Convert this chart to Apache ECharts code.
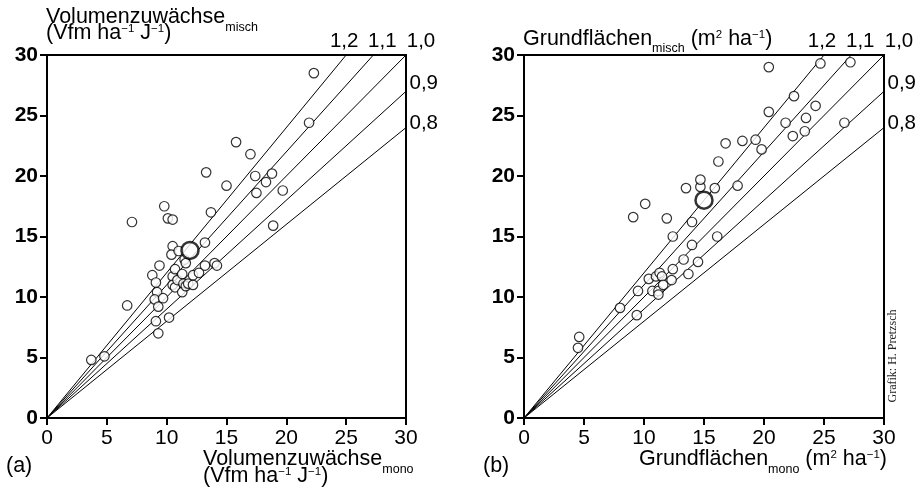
<!DOCTYPE html>
<html><head><meta charset="utf-8">
<script src="https://cdn.jsdelivr.net/npm/echarts@6/dist/echarts.min.js"></script>
<style>html,body{margin:0;padding:0;background:#fff}#c{width:916px;height:495px}</style>
</head><body><div id="c"></div>
<script>
// ---- data ----
const axisTicks = [0, 5, 10, 15, 20, 25, 30];
const ratios = [1.2, 1.1, 1.0, 0.9, 0.8];
const ratioLabels = ['1,2', '1,1', '1,0', '0,9', '0,8'];

// (a) Volumenzuwächse mono (x) vs misch (y)
const volPoints = [
  [3.7,4.8],[4.8,5.1],[6.7,9.3],[7.1,16.2],[8.8,11.8],[9.1,11.2],[9.2,10.4],[9.1,8.0],[9.3,7.0],
  [9.0,9.8],[9.7,9.9],[9.3,9.2],[9.4,12.6],[9.8,17.5],[10.1,16.5],[10.5,16.4],[10.2,8.3],
  [10.5,14.2],[10.4,13.5],[11.0,13.8],[10.5,11.7],[10.5,11.0],[10.7,10.8],[10.7,12.3],[10.9,11.4],
  [11.3,11.9],[11.4,11.1],[11.3,10.4],[11.5,13.1],[11.6,12.8],[11.6,10.9],[11.8,11.1],[12.2,11.0],
  [12.2,11.8],[12.7,12.0],[13.2,12.6],[13.2,14.5],[14.0,12.8],[14.2,12.6],[13.3,20.3],[13.7,17.0],
  [15.0,19.2],[15.8,22.8],[17.0,21.8],[17.4,20.0],[17.5,18.6],[18.3,19.5],[18.8,20.2],[18.9,15.9],
  [19.7,18.8],[21.9,24.4],[22.3,28.5]
];
const volMean = [[11.95, 13.85]];

// (b) Grundflächen mono (x) vs misch (y)
const baPoints = [
  [4.5,5.8],[4.6,6.7],[8.0,9.1],[9.4,8.5],[9.5,10.5],[10.4,11.5],[10.7,10.5],[11.0,11.7],[11.2,10.5],
  [11.2,10.2],[11.3,12.0],[11.5,11.7],[11.6,11.0],[12.3,11.4],[12.4,12.3],[13.3,13.1],[13.7,11.9],
  [14.5,12.9],[14.0,14.3],[14.0,16.2],[12.4,15.0],[16.1,15.0],[9.1,16.6],[10.1,17.7],[11.9,16.5],
  [13.5,19.0],[14.7,19.1],[14.7,19.7],[15.9,19.0],[17.8,19.2],[16.2,21.2],[16.8,22.7],[18.2,22.9],
  [19.3,23.0],[19.8,22.2],[20.4,25.3],[20.4,29.0],[21.8,24.4],[22.4,23.3],[22.5,26.6],[23.4,23.7],
  [23.5,24.8],[24.3,25.8],[24.7,29.3],[26.7,24.4],[27.2,29.4]
];
const baMean = [[15.0, 18.0]];

// ---- styles ----
const FONT = '"Liberation Sans", Arial, Helvetica, sans-serif';
const labelOffsets = [[-2, 0], [9, 0], [15, 0], [0, -8], [0, -4]]; // label nudges per ratio line
const labelPos = ['top', 'top', 'top', 'right', 'right'];

const chart = echarts.init(document.getElementById('c'), null, {renderer: 'canvas'});

const grids = [
  {left: 47, top: 55, width: 359, height: 363},
  {left: 524, top: 55, width: 360, height: 363}
];

function mkAxis(idx, isY) {
  return {
    type: 'value', gridIndex: idx, min: axisTicks[0], max: axisTicks[axisTicks.length - 1],
    interval: axisTicks[1] - axisTicks[0],
    axisLine: {show: true, onZero: false, lineStyle: {color: '#000', width: 2}},
    axisTick: {show: true, length: 7, inside: false, lineStyle: {color: '#000', width: 2}},
    splitLine: {show: false},
    axisLabel: {
      color: '#000', fontFamily: FONT, margin: isY ? 9 : 10,
      fontSize: 21, fontWeight: isY ? 'bold' : 'normal',
      showMinLabel: true, showMaxLabel: true
    }
  };
}

const series = [];
[[volPoints, volMean], [baPoints, baMean]].forEach(([pts, mean], p) => {
  ratios.forEach((k, i) => {
    const xe = Math.min(30, 30 / k), ye = k * xe;
    series.push({
      type: 'line', xAxisIndex: p, yAxisIndex: p, silent: true, animation: false,
      symbol: 'circle', symbolSize: 1, showSymbol: true,
      itemStyle: {color: 'rgba(0,0,0,0)'},
      lineStyle: {color: '#000', width: 1},
      z: 2,
      data: [
        {value: [0, 0], label: {show: false}},
        {value: [xe, ye], label: {
          show: true, formatter: ratioLabels[i], position: labelPos[i], distance: 3,
          offset: labelOffsets[i], color: '#000', fontSize: 20.5, fontFamily: FONT
        }}
      ]
    });
  });
  series.push({
    type: 'scatter', xAxisIndex: p, yAxisIndex: p, animation: false, z: 3,
    symbol: 'circle', symbolSize: 9.5,
    itemStyle: {color: '#fff', borderColor: '#000', borderWidth: 1.2},
    data: pts
  });
  series.push({
    type: 'scatter', xAxisIndex: p, yAxisIndex: p, animation: false, z: 4,
    symbol: 'circle', symbolSize: 17,
    itemStyle: {color: '#fff', borderColor: '#000', borderWidth: 2.5},
    data: mean
  });
});

// ---- text runs with sub/superscripts ----
const mctx = document.createElement('canvas').getContext('2d');
function w(t, size) { mctx.font = size + 'px ' + FONT; return mctx.measureText(t).width; }
// pieces: [text, fontSize, baselineShift]
function run(pieces, x0, baseline) {
  const out = [];
  let x = x0;
  pieces.forEach(([t, size, dy]) => {
    out.push({
      type: 'text', x: x, y: baseline + dy - 0.36 * size, silent: true,
      style: {text: t, fontSize: size, fontFamily: FONT, fill: '#000', align: 'left', verticalAlign: 'middle'}
    });
    x += w(t, size);
  });
  return out;
}
const M = 21.5, S = 12.5, P = 11.5;
const graphics = [].concat(
  run([['Volumenzuwächse', M, 0], ['misch', S, 7]], 46, 25),
  run([['(Vfm ha', M, 0], ['\u22121', P, -8], [' J', M, 0], ['\u22121', P, -8], [')', M, 0]], 46, 41),
  run([['Volumenzuwächse', M, 0], ['mono', S, 7]], 203, 467),
  run([['(Vfm ha', M, 0], ['\u22121', P, -8], [' J', M, 0], ['\u22121', P, -8], [')', M, 0]], 203, 484),
  run([['(a)', M, 0]], 6, 474),
  run([['Grundflächen', M, 0], ['misch', S, 6], [' (m', M, 0], ['2', P, -8], [' ha', M, 0], ['\u22121', P, -8], [')', M, 0]], 523, 47),
  run([['Grundflächen', M, 0], ['mono', S, 7], [' (m', M, 0], ['2', P, -8], [' ha', M, 0], ['\u22121', P, -8], [')', M, 0]], 639, 467),
  run([['(b)', M, 0]], 483, 474),
  [{
    type: 'text', x: 893, y: 356, rotation: Math.PI / 2, silent: true,
    style: {text: 'Grafik: H. Pretzsch', fontSize: 12, fontFamily: '"Liberation Serif", "DejaVu Serif", serif',
      fill: '#222', align: 'center', verticalAlign: 'middle'}
  }]
);

chart.setOption({
  animation: false,
  backgroundColor: '#fff',
  grid: grids.map(g => Object.assign({show: true, borderColor: '#000', borderWidth: 2, backgroundColor: 'transparent', containLabel: false}, g)),
  xAxis: [mkAxis(0, false), mkAxis(1, false)],
  yAxis: [mkAxis(0, true), mkAxis(1, true)],
  series: series,
  graphic: graphics
});
</script></body></html>
